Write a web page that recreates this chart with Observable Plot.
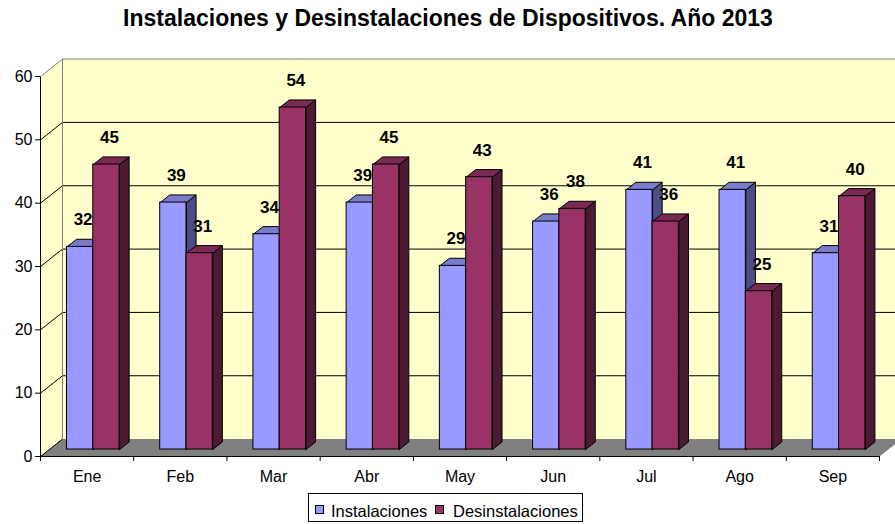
<!DOCTYPE html>
<html><head><meta charset="utf-8">
<script src="https://cdn.jsdelivr.net/npm/d3@7"></script>
<script src="https://cdn.jsdelivr.net/npm/@observablehq/plot@0.6"></script>
<style>
body{margin:0;background:#fff;font-family:"Liberation Sans",Arial,sans-serif;}
#wrap{position:relative;width:895px;height:524px;overflow:hidden;background:#fff;}
#title{position:absolute;left:0;top:7px;width:896px;text-align:center;font-weight:bold;font-size:23px;line-height:23px;color:#000;}
#chart{position:absolute;left:0;top:40px;}
#legend{position:absolute;left:308px;top:493px;width:275px;height:29px;box-sizing:border-box;border:1px solid #000;background:#fff;font-size:16.5px;line-height:16px;color:#000;}
.sw{position:absolute;top:11px;width:9px;height:9px;box-sizing:border-box;border:1px solid #000;}
.lt{position:absolute;top:9px;white-space:nowrap;}
</style></head>
<body>
<div id="wrap">
  <div id="title">Instalaciones y Desinstalaciones de Dispositivos. Año 2013</div>
  <div id="chart"></div>
  <div id="legend"></div>
</div>
<script>
// ---- data ----
const months = ["Ene", "Feb", "Mar", "Abr", "May", "Jun", "Jul", "Ago", "Sep"];
const instalaciones = [32, 39, 34, 39, 29, 36, 41, 41, 31];
const desinstalaciones = [45, 31, 54, 45, 43, 38, 36, 25, 40];
const seriesNames = ["Instalaciones", "Desinstalaciones"];
const yTicks = [0, 10, 20, 30, 40, 50, 60];

// ---- style / 3D geometry (scale units) ----
const colors = [
  {front: "#9999FF", top: "#7B7BCC", side: "#4D4D86"},
  {front: "#993366", top: "#7A2952", side: "#4C1A33"}
];
const wall = {dx: 0.236, dy: 2.75};
const bar = {start: 0.284, w: 0.282, dx: 0.103, dy: 1.2, base: 1.1};
const yMax = yTicks[yTicks.length - 1];
const n = months.length;

const seriesValues = [instalaciones, desinstalaciones];
const bars = [];
seriesValues.forEach((vals, s) => vals.forEach((v, i) => {
  const x0 = i + bar.start + s * bar.w;
  bars.push({id: s + "-" + i, s, month: months[i], value: v, x0, x1: x0 + bar.w, base: bar.base, top: v + bar.base});
}));
const poly = (b, pts) => pts.map(([x, y]) => ({id: b.id, s: b.s, x, y}));
const topFaces = bars.flatMap(b => poly(b, [[b.x0, b.top], [b.x1, b.top], [b.x1 + bar.dx, b.top + bar.dy], [b.x0 + bar.dx, b.top + bar.dy], [b.x0, b.top]]));
const sideFaces = bars.flatMap(b => poly(b, [[b.x1, b.base], [b.x1 + bar.dx, b.base + bar.dy], [b.x1 + bar.dx, b.top + bar.dy], [b.x1, b.top], [b.x1, b.base]]));

const backWall = [{x1: wall.dx, x2: n + wall.dx, y1: wall.dy, y2: yMax + wall.dy}];
const leftWall = [[0, 0], [wall.dx, wall.dy], [wall.dx, yMax + wall.dy], [0, yMax], [0, 0]].map(([x, y]) => ({x, y}));
const floor = [[0, 0], [n, 0], [n + wall.dx, wall.dy], [wall.dx, wall.dy], [0, 0]].map(([x, y]) => ({x, y}));
const grid = yTicks.filter(t => t > 0 && t < yMax);

const marks = [
  Plot.rect(backWall, {x1: "x1", x2: "x2", y1: "y1", y2: "y2", fill: "#FFFFCC"}),
  Plot.line(leftWall, {x: "x", y: "y", fill: "#FFFFCC", stroke: "none"}),
  Plot.line(floor, {x: "x", y: "y", fill: "#808080", stroke: "none"}),
  Plot.link(grid, {x1: wall.dx, x2: n + wall.dx, y1: d => d + wall.dy, y2: d => d + wall.dy, stroke: "#000", strokeWidth: 1}),
  Plot.link(grid, {x1: 0, x2: wall.dx, y1: d => d, y2: d => d + wall.dy, stroke: "#000", strokeWidth: 1}),
  Plot.link([0], {x1: 0, x2: wall.dx, y1: 0, y2: wall.dy, stroke: "#000", strokeWidth: 1}),
  Plot.link([yMax], {x1: wall.dx, x2: n + wall.dx, y1: d => d + wall.dy, y2: d => d + wall.dy, stroke: "#808080", strokeWidth: 1}),
  Plot.link([yMax], {x1: 0, x2: wall.dx, y1: d => d, y2: d => d + wall.dy, stroke: "#808080", strokeWidth: 1}),
  Plot.link([wall.dx], {x1: d => d, x2: d => d, y1: wall.dy, y2: yMax + wall.dy, stroke: "#808080", strokeWidth: 1})
];

[0, 1].forEach(s => {
  marks.push(
    Plot.line(sideFaces.filter(d => d.s === s), {x: "x", y: "y", z: "id", fill: colors[s].side, stroke: "#000", strokeWidth: 1, strokeLinejoin: "miter"}),
    Plot.line(topFaces.filter(d => d.s === s), {x: "x", y: "y", z: "id", fill: colors[s].top, stroke: "#000", strokeWidth: 1, strokeLinejoin: "miter"}),
    Plot.rect(bars.filter(d => d.s === s), {x1: "x0", x2: "x1", y1: "base", y2: "top", fill: colors[s].front, stroke: "#000", strokeWidth: 1})
  );
});

marks.push(
  Plot.link([0], {x1: 0, x2: n, y1: 0, y2: 0, stroke: "#000"}),
  Plot.link([0], {x1: 0, x2: 0, y1: 0, y2: yMax, stroke: "#000"}),
  Plot.axisY({ticks: yTicks, tickSize: 5, tickPadding: 3, fontSize: 16, label: null, stroke: "#000", fill: "#000"}),
  Plot.axisX({ticks: d3.range(0, n + 1), tickSize: 5, tickFormat: () => "", label: null, stroke: "#000"}),
  Plot.text(months, {x: (d, i) => i + 0.5, y: () => 0, text: d => d, dy: 20, fontSize: 16, fill: "#000"}),
  Plot.text(bars, {x: d => (d.x0 + d.x1) / 2, y: "top", text: d => String(d.value), dx: 3, dy: -27, fontSize: 17, fontWeight: "bold", fill: "#000"})
);

const chart = Plot.plot({
  width: 895,
  height: 455,
  marginLeft: 40,
  marginRight: 16,
  marginTop: 36,
  marginBottom: 39,
  x: {type: "linear", domain: [0, n]},
  y: {type: "linear", domain: [0, yMax]},
  style: {fontFamily: "'Liberation Sans', Arial, sans-serif", fontSize: "16px", background: "transparent", overflow: "visible", color: "#000"},
  marks
});
document.getElementById("chart").appendChild(chart);

// legend
const legend = document.getElementById("legend");
const swX = [6, 126];
const txX = [22, 144];
seriesNames.forEach((name, s) => {
  const sw = document.createElement("div");
  sw.className = "sw";
  sw.style.left = swX[s] + "px";
  sw.style.background = colors[s].front;
  legend.appendChild(sw);
  const t = document.createElement("span");
  t.className = "lt";
  t.style.left = txX[s] + "px";
  t.textContent = name;
  legend.appendChild(t);
});
</script>
</body></html>
